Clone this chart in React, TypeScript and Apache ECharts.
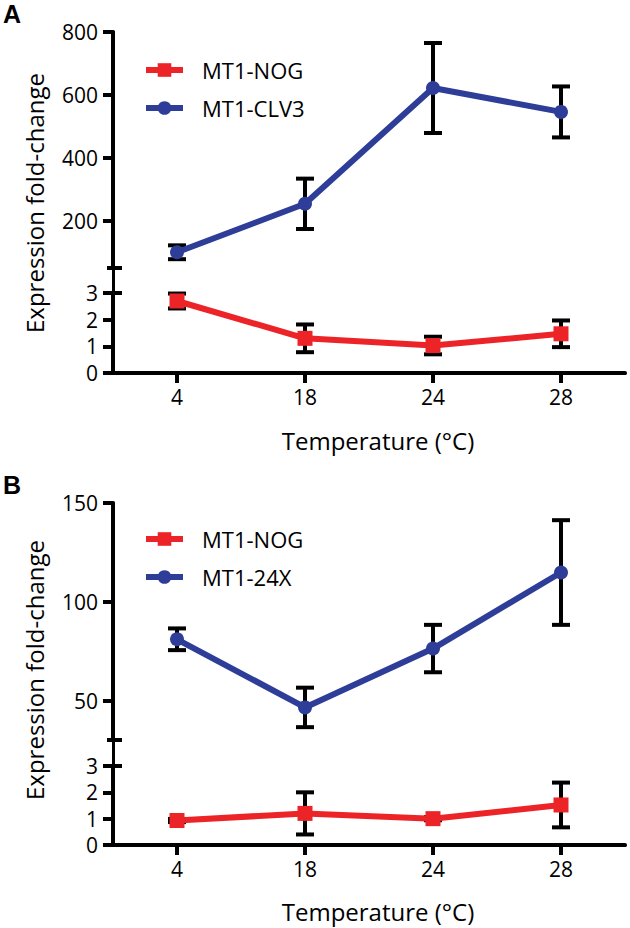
import React, { useEffect, useRef } from "react";
import * as echarts from "echarts";

// ---------- data ----------
const categories = ["4", "18", "24", "28"];

const aClv3Mean = [100, 254, 622, 546];
const aClv3Err = [22, 80, 143, 81];
const aNogMean = [2.7, 1.3, 1.03, 1.47];
const aNogErr = [0.28, 0.52, 0.33, 0.5];

const b24xMean = [81, 46.5, 76.3, 114.8];
const b24xErr = [5.5, 10, 12, 26.5];
const bNogMean = [0.93, 1.2, 1.0, 1.52];
const bNogErr = [0.06, 0.8, 0.06, 0.85];

const aUpperTicks = [200, 400, 600, 800];
const bUpperTicks = [50, 100, 150];
const lowerTicks = [0, 1, 2, 3];

const legendA = ["MT1-NOG", "MT1-CLV3"];
const legendB = ["MT1-NOG", "MT1-24X"];

// ---------- style / layout ----------
const FONT = "'Open Sans', 'Noto Sans', sans-serif";
const RED = "#EC2428";
const BLUE = "#2E3D98";
const LEFT = 113;
const WIDTH = 512;

const panels = [
  { top: 32, upperH: 236, lowerTop: 293, lowerH: 80, upperMin: 50, upperMax: 800, upperTicks: aUpperTicks },
  { top: 503, upperH: 237, lowerTop: 766, lowerH: 79, upperMin: 30, upperMax: 150, upperTicks: bUpperTicks },
];

function errData(mean: number[], err: number[]) {
  return mean.map((m, i) => [i, m - err[i], m + err[i]]);
}

function errRender(_params: any, api: any) {
  const x = api.value(0);
  const lo = api.coord([x, api.value(1)]);
  const hi = api.coord([x, api.value(2)]);
  const hw = 9;
  const style = { stroke: "#000", lineWidth: 4 };
  return {
    type: "group",
    children: [
      { type: "line", shape: { x1: lo[0], y1: lo[1], x2: hi[0], y2: hi[1] }, style },
      { type: "line", shape: { x1: lo[0] - hw, y1: lo[1], x2: lo[0] + hw, y2: lo[1] }, style },
      { type: "line", shape: { x1: hi[0] - hw, y1: hi[1], x2: hi[0] + hw, y2: hi[1] }, style },
    ],
  };
}

function buildOption() {
  const grid: any[] = [];
  const xAxis: any[] = [];
  const yAxis: any[] = [];
  const axisLine = { show: true, lineStyle: { color: "#000", width: 4 } };
  const frameLine = { show: true, lineStyle: { color: "#000", width: 3 } };
  const label = { color: "#000", fontSize: 21, fontFamily: FONT };

  panels.forEach((p) => {
    const gi = grid.length;
    grid.push({ left: LEFT, top: p.top, width: WIDTH, height: p.upperH });
    grid.push({ left: LEFT, top: p.lowerTop, width: WIDTH, height: p.lowerH });
    grid.push({ left: LEFT, top: p.top, width: WIDTH, height: p.lowerTop + p.lowerH - p.top });

    xAxis.push({ gridIndex: gi, type: "category", data: categories, show: false });
    xAxis.push({
      gridIndex: gi + 1,
      type: "category",
      data: categories,
      axisLine,
      axisTick: { show: true, alignWithLabel: true, length: 10, lineStyle: { color: "#000", width: 4 } },
      axisLabel: { ...label, margin: 13 },
    });
    xAxis.push({
      gridIndex: gi + 2,
      type: "value",
      min: 0,
      max: 1,
      position: "top",
      axisLine: frameLine,
      axisTick: { show: false },
      axisLabel: { show: false },
      splitLine: { show: false },
    });

    yAxis.push({
      gridIndex: gi,
      type: "value",
      min: p.upperMin,
      max: p.upperMax,
      axisLine,
      axisTick: { show: true, length: 10, lineStyle: { color: "#000", width: 4 }, customValues: p.upperTicks },
      axisLabel: { ...label, margin: 15, customValues: p.upperTicks },
      splitLine: { show: false },
    });
    yAxis.push({
      gridIndex: gi + 1,
      type: "value",
      min: 0,
      max: 3,
      interval: 1,
      axisLine,
      axisTick: { show: true, length: 10, lineStyle: { color: "#000", width: 4 }, customValues: lowerTicks },
      axisLabel: { ...label, margin: 15, customValues: lowerTicks },
      splitLine: { show: false },
    });
    yAxis.push({
      gridIndex: gi + 2,
      type: "value",
      min: 0,
      max: 1,
      position: "right",
      axisLine: frameLine,
      axisTick: { show: false },
      axisLabel: { show: false },
      splitLine: { show: false },
    });
  });

  const lineSeries = (name: string, data: number[], idx: number, color: string, symbol: string, size: number) => ({
    name,
    type: "line",
    xAxisIndex: idx,
    yAxisIndex: idx,
    data,
    symbol,
    symbolSize: size,
    lineStyle: { color, width: 6 },
    itemStyle: { color },
    z: 3,
  });
  const errSeries = (mean: number[], err: number[], idx: number) => ({
    type: "custom",
    xAxisIndex: idx,
    yAxisIndex: idx,
    data: errData(mean, err),
    encode: { x: 0, y: [1, 2] },
    renderItem: errRender,
    z: 2,
    silent: true,
  });

  const series = [
    lineSeries("MT1-NOG", aNogMean, 1, RED, "rect", 15),
    lineSeries("MT1-CLV3", aClv3Mean, 0, BLUE, "circle", 14),
    errSeries(aClv3Mean, aClv3Err, 0),
    errSeries(aNogMean, aNogErr, 1),
    lineSeries("MT1-NOG", bNogMean, 4, RED, "rect", 15),
    lineSeries("MT1-24X", b24xMean, 3, BLUE, "circle", 14),
    errSeries(b24xMean, b24xErr, 3),
    errSeries(bNogMean, bNogErr, 4),
  ];

  const legendCommon = {
    orient: "vertical",
    left: 138,
    itemWidth: 37,
    itemHeight: 17,
    itemGap: 16,
    selectedMode: false,
    lineStyle: { width: 6 },
    textStyle: { color: "#000", fontSize: 22, fontFamily: FONT, padding: [0, 0, 0, 14] },
  };
  const legend = [
    { ...legendCommon, top: 54, data: legendA },
    { ...legendCommon, top: 523, data: legendB },
  ];

  const capStyle = { stroke: "#000", lineWidth: 4 };
  const graphic: any[] = [];
  const letters = ["A", "B"];
  const yTitleCenters = [203, 670];
  const xTitleYs = [440, 911];
  panels.forEach((p, i) => {
    const upperBottom = p.top + p.upperH;
    graphic.push({ type: "line", shape: { x1: LEFT - 6, y1: upperBottom, x2: LEFT + 9, y2: upperBottom }, style: capStyle });
    graphic.push({ type: "line", shape: { x1: LEFT, y1: p.lowerTop, x2: LEFT + 9, y2: p.lowerTop }, style: capStyle });
    graphic.push({
      type: "text",
      left: 3,
      top: p.top - 31,
      style: { text: letters[i], fontSize: 25, fontWeight: "bold", fontFamily: "Arial, 'Liberation Sans', sans-serif", fill: "#000" },
    });
    graphic.push({
      type: "text",
      x: 34,
      y: yTitleCenters[i],
      rotation: Math.PI / 2,
      style: { text: "Expression fold-change", fontSize: 24, fontFamily: FONT, fill: "#000", align: "center", verticalAlign: "middle" },
    });
    graphic.push({
      type: "text",
      x: 378,
      y: xTitleYs[i],
      style: { text: "Temperature (°C)", fontSize: 24, fontFamily: FONT, fill: "#000", align: "center", verticalAlign: "middle" },
    });
  });

  return { animation: false, backgroundColor: "#fff", grid, xAxis, yAxis, series, legend, graphic };
}

export default function App() {
  const ref = useRef<HTMLDivElement>(null);
  useEffect(() => {
    document.body.style.margin = "0";
    if (!ref.current) return;
    const chart = echarts.init(ref.current, null, { renderer: "svg" });
    chart.setOption(buildOption() as any);
    return () => chart.dispose();
  }, []);
  return <div ref={ref} style={{ width: 630, height: 928 }} />;
}
